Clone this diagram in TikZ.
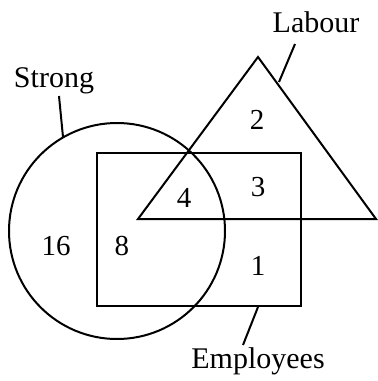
\documentclass[tikz,border=0pt]{standalone}
\usepackage{fontspec}
\setmainfont{Liberation Serif}
\begin{document}
\begin{tikzpicture}[x=0.5pt,y=-0.5pt,line width=1pt,
  lbl/.style={font=\fontsize{15}{18}\selectfont, inner sep=0pt},
  num/.style={font=\fontsize{14.5}{17}\selectfont, inner sep=0pt}]
\useasboundingbox (0,0) rectangle (377,381);
% circle (Strong)
\draw (117,231) circle[radius=108];
% rectangle (Employees)
\draw (97,153) rectangle (301,306);
% triangle (Labour)
\draw (258,57) -- (376,219) -- (138,219) -- cycle;
% labels
\node[lbl] (labour) at (316,22) {Labour};
\node[lbl] (strong) at (54,81) {Strong};
\node[lbl] (employees) at (258,361) {Employees};
\coordinate (labA) at (279,82);
\coordinate (labB) at (295,44);
\coordinate (strA) at (63,137);
\coordinate (strB) at (59,96);
\coordinate (empA) at (258,307);
\coordinate (empB) at (243,345);
\draw (labA) -- (labB);
\draw (strA) -- (strB);
\draw (empA) -- (empB);
% numbers
\node[num] (n2) at (257,120) {2};
\node[num] (n3) at (258,187) {3};
\node[num] (n4) at (184,198) {4};
\node[num] (n16) at (56,246) {16};
\node[num] (n8) at (122,246) {8};
\node[num] (n1) at (258,266) {1};
\end{tikzpicture}
\end{document}
